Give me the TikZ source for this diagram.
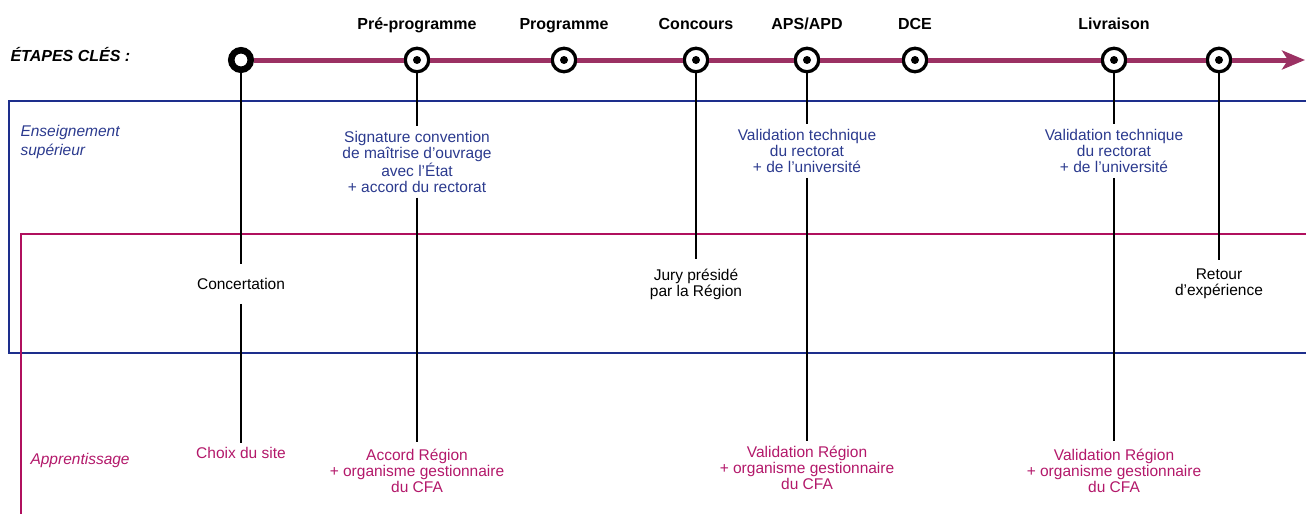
\documentclass[tikz,border=0pt]{standalone}
\usepackage{fontspec}
\setmainfont{Liberation Sans}
\usetikzlibrary{arrows.meta}
\definecolor{frise}{HTML}{9B3163}
\definecolor{bleusup}{HTML}{2B3A8E}
\definecolor{cadresup}{HTML}{1D2E8C}
\definecolor{roseapp}{HTML}{B3186A}
\definecolor{cadreapp}{HTML}{B0105E}

\begin{document}
\begin{tikzpicture}[x=1pt,y=-1pt,
  every node/.style={font=\fontsize{15.5}{16}\selectfont},
  jalon/.style={circle,draw,line width=3.3pt,fill=white,minimum size=23.5pt,inner sep=0pt,
    path picture={\fill[black] (path picture bounding box.center) circle (4pt);}},
  depart/.style={circle,draw,line width=6.5pt,fill=white,minimum size=19.5pt,inner sep=0pt},
  etape/.style={font=\fontsize{16}{18}\selectfont\bfseries,text height=12pt,text depth=4pt},
  txtsup/.style={text=bleusup,align=center,inner ysep=5pt},
  txtapp/.style={text=roseapp,align=center,inner ysep=5pt},
  txtcom/.style={align=center,inner ysep=9pt},
  fil/.style={line width=2.8pt},
  axe/.style={line width=5pt,frise,-{Stealth[length=23pt,width=19pt,inset=6pt]}}
]
\useasboundingbox (0,0) rectangle (1306,514);

% Frames
\draw[cadresup,line width=2pt] (1306,101) -- (9,101) -- (9,353) -- (1306,353);
\draw[cadreapp,line width=2pt] (1306,234) -- (21,234) -- (21,514);

% Milestones
\node[depart] (m0) at (241,60) {};
\node[jalon] (m1) at (417,60) {};
\node[jalon] (m2) at (564,60) {};
\node[jalon] (m3) at (696,60) {};
\node[jalon] (m4) at (807,60) {};
\node[jalon] (m5) at (915,60) {};
\node[jalon] (m6) at (1114,60) {};
\node[jalon] (m7) at (1219,60) {};
\coordinate (fin) at (1305,60);
\draw[axe] (m0) -- (m1) -- (m2) -- (m3) -- (m4) -- (m5) -- (m6) -- (m7) -- (fin);

% Writing
\node[font=\fontsize{16}{18}\selectfont\bfseries\itshape,anchor=west] (cles) at (7,55) {ÉTAPES CLÉS :};
\node[etape] (t1) at (417,25) {Pré-programme}; % Steps
\node[etape] (t2) at (564,25) {Programme};
\node[etape] (t3) at (696,25) {Concours};
\node[etape] (t4) at (807,25) {APS/APD};
\node[etape] (t5) at (915,25) {DCE};
\node[etape] (t6) at (1114,25) {Livraison};

\node[text=bleusup,font=\fontsize{15.5}{19.5}\selectfont\itshape,align=left,anchor=west] (ens) at (17,142) {Enseignement\\supérieur};
\node[text=roseapp,font=\fontsize{15.5}{16}\selectfont\itshape,anchor=west] (appr) at (27,460) {Apprentissage};

\node[txtcom,inner ysep=14pt] (concert) at (241,284) {Concertation};
\node[txtapp,inner ysep=4pt] (choix) at (241,453) {Choix du site};
\node[txtsup] (sign) at (417,162) {Signature convention\\de maîtrise d’ouvrage\\avec l’État\\+ accord du rectorat};
\node[txtapp,inner ysep=7pt] (accord) at (417,471) {Accord Région\\+ organisme gestionnaire\\du CFA};
\node[txtcom] (jury) at (696,284) {Jury présidé\\par la Région};
\node[txtsup] (vtech1) at (807,151) {Validation technique\\du rectorat\\+ de l’université};
\node[txtapp] (vreg1) at (807,468) {Validation Région\\+ organisme gestionnaire\\du CFA};
\node[txtsup] (vtech2) at (1114,151) {Validation technique\\du rectorat\\+ de l’université};
\node[txtapp,inner ysep=8pt] (vreg2) at (1114,471) {Validation Région\\+ organisme gestionnaire\\du CFA};
\node[txtcom] (retour) at (1219,284) {Retour\\d’expérience};

% Links
\draw[fil] (m0) -- (concert) (concert) -- (choix);
\draw[fil] (m1) -- (sign) (sign) -- (accord);
\draw[fil] (m3) -- (jury);
\draw[fil] (m4) -- (vtech1) (vtech1) -- (vreg1);
\draw[fil] (m6) -- (vtech2) (vtech2) -- (vreg2);
\draw[fil] (m7) -- (retour);
\end{tikzpicture}
\end{document}
